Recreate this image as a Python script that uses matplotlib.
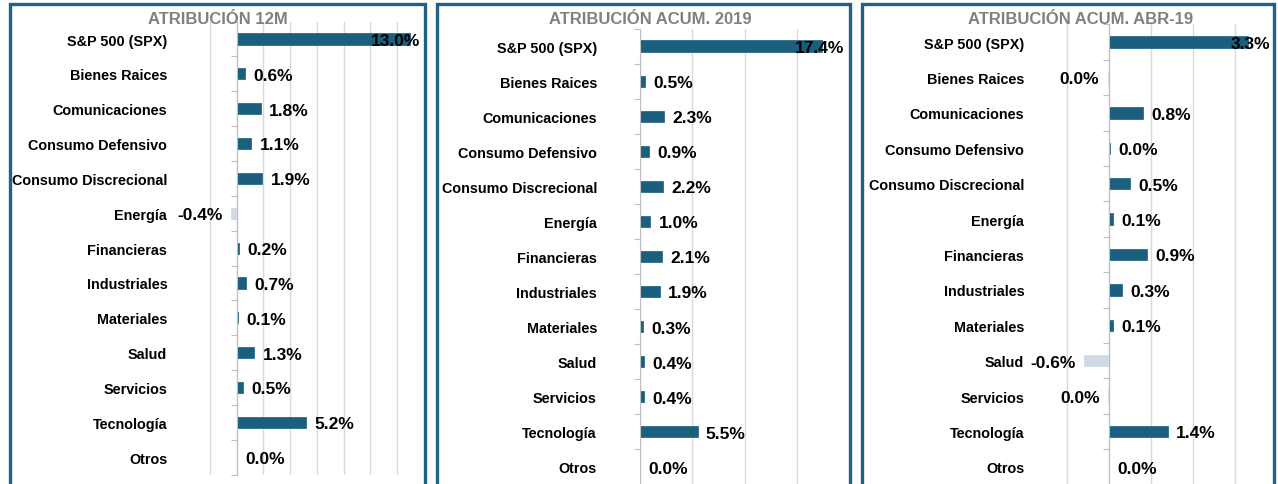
import matplotlib
matplotlib.use("Agg")
import matplotlib.pyplot as plt
from matplotlib.patches import Rectangle
import matplotlib.transforms as mtransforms

plt.rcParams['font.family'] = ['Liberation Sans', 'DejaVu Sans']

categories = ["S&P 500 (SPX)", "Bienes Raices", "Comunicaciones", "Consumo Defensivo",
              "Consumo Discrecional", "Energía", "Financieras", "Industriales",
              "Materiales", "Salud", "Servicios", "Tecnología", "Otros"]

titles = ["ATRIBUCIÓN 12M", "ATRIBUCIÓN ACUM. 2019", "ATRIBUCIÓN ACUM. ABR-19"]

attr_12m = [13.0, 0.6, 1.8, 1.1, 1.9, -0.4, 0.2, 0.7, 0.1, 1.3, 0.5, 5.2, 0.0]
attr_2019 = [17.4, 0.5, 2.3, 0.9, 2.2, 1.0, 2.1, 1.9, 0.3, 0.4, 0.4, 5.5, 0.0]
attr_abr19 = [3.3, -0.03, 0.8, 0.02, 0.5, 0.1, 0.9, 0.3, 0.1, -0.6, -0.02, 1.4, 0.0]

series = [attr_12m, attr_2019, attr_abr19]

W, H = 1278, 485
POS = "#1B5E7E"
NEG = "#D0D9E4"
BORDER = "#1F6284"
GRID = "#D9D9D9"

layouts = [
    dict(zero=236.7, ppu=13.36, xlim=(-4, 14), grid=[-2, 0, 2, 4, 6, 8, 10, 12],
         top=22.6, bot=475.6, pad=50, bx=(10, 424.5), tcx=217.5),
    dict(zero=640, ppu=10.47, xlim=(0, 19.8), grid=[0, 5, 10, 15],
         top=29.5, bot=485.5, pad=31, bx=(436.7, 850), tcx=650),
    dict(zero=1109, ppu=42.0, xlim=(-1.5, 3.93), grid=[-1, 0, 1, 2, 3],
         top=25.3, bot=485.7, pad=61, bx=(861.5, 1273.5), tcx=1081),
]

fig = plt.figure(figsize=(W / 100, H / 100), dpi=100)

for vals, title, L in zip(series, titles, layouts):
    x0 = L['zero'] + L['xlim'][0] * L['ppu']
    x1 = L['zero'] + L['xlim'][1] * L['ppu']
    ax = fig.add_axes([x0 / W, (H - L['bot']) / H, (x1 - x0) / W, (L['bot'] - L['top']) / H])
    ax.patch.set_alpha(0)
    ypos = list(range(len(categories)))
    colors = [POS if v >= 0 else NEG for v in vals]
    ax.barh(ypos, vals, height=0.32, color=colors, edgecolor=colors, linewidth=0.5, zorder=3)
    ax.set_xlim(*L['xlim'])
    ax.set_ylim(len(categories) - 0.5, -0.5)
    ax.set_xticks(L['grid'])
    ax.xaxis.grid(True, color=GRID, linewidth=1.0)
    ax.set_axisbelow(True)
    ax.tick_params(axis='x', length=0, labelbottom=False)
    for s in ['top', 'right', 'bottom']:
        ax.spines[s].set_visible(False)
    ax.spines['left'].set_position(('data', 0))
    ax.spines['left'].set_color('#BFBFBF')
    ax.spines['left'].set_linewidth(0.8)
    ax.spines['left'].set_zorder(4)
    ax.set_yticks(ypos)
    ax.set_yticklabels(categories, fontsize=10.4, fontweight='bold')
    ax.set_yticks([i + 0.5 for i in range(-1, len(categories))], minor=True)
    ax.tick_params(axis='y', which='major', length=0, pad=L['pad'])
    ax.tick_params(axis='y', which='minor', length=4, color='#BFBFBF', width=0.8)

    trans_r = mtransforms.blended_transform_factory(ax.transAxes, ax.transData)
    for i, v in enumerate(vals):
        r = round(v, 1)
        txt = f"{abs(r):.1f}%" if r == 0 else f"{r:.1f}%"
        if v >= 0:
            lab_w_px = 9.5 * len(txt)
            if L['zero'] + v * L['ppu'] + 8 + lab_w_px > x1:
                ax.text(0.985, i + 0.04, txt, transform=trans_r, ha='right', va='center',
                        fontsize=12.5, fontweight='bold', zorder=5)
            else:
                ax.annotate(txt, (v, i + 0.04), xytext=(6, 0), textcoords='offset points',
                            ha='left', va='center', fontsize=12.5, fontweight='bold', zorder=5)
        else:
            ax.annotate(txt, (v, i + 0.04), xytext=(-6, 0), textcoords='offset points',
                        ha='right', va='center', fontsize=12.5, fontweight='bold', zorder=5)

    fig.text(L['tcx'] / W, 1 - 23.5 / H, title, ha='center', va='baseline', fontsize=12,
             fontweight='bold', color='#808080')
    bx0, bx1 = L['bx']
    fig.patches.append(Rectangle((bx0 / W, -0.05), (bx1 - bx0) / W, (H - 5) / H + 0.05,
                                 transform=fig.transFigure, fill=False,
                                 edgecolor=BORDER, linewidth=2.4, zorder=10))

fig.savefig("out.png", dpi=100)
